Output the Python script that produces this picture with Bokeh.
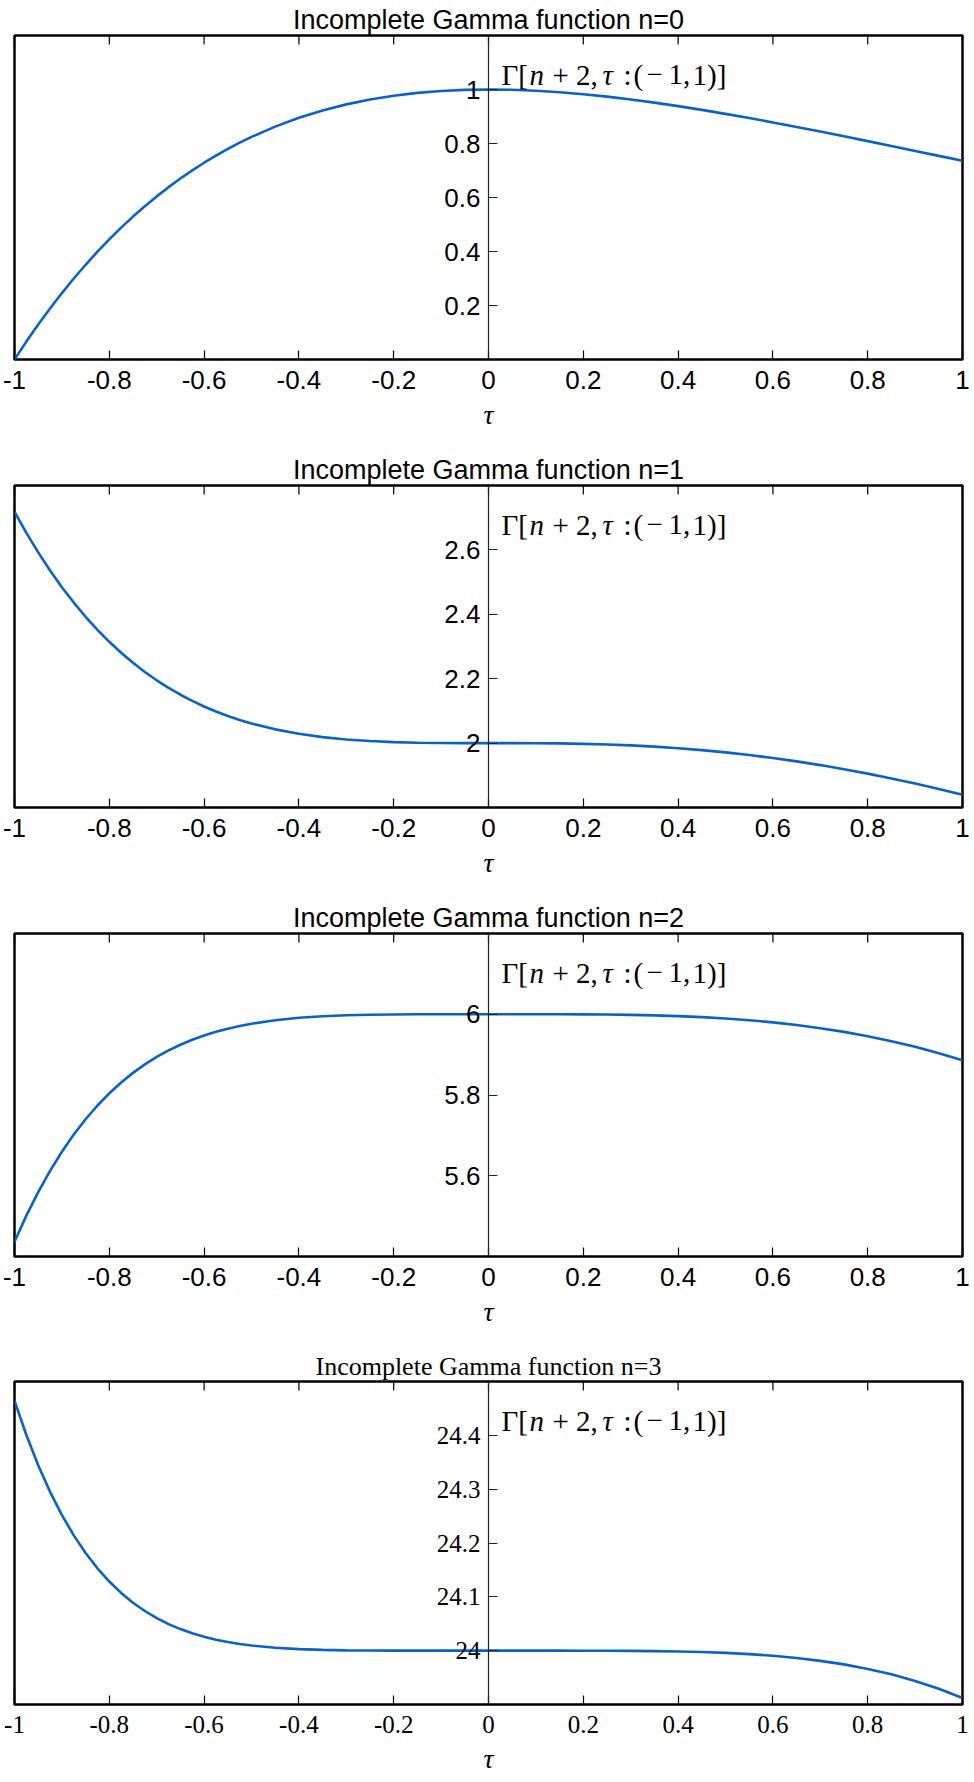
from bokeh.plotting import figure
from bokeh.models import LinearAxis, FixedTicker, Label, Range1d
from bokeh.layouts import column
from bokeh.embed import file_html
from bokeh.resources import INLINE

# ---------------- data ----------------
tau = [-1.000, -0.975, -0.950, -0.925, -0.900, -0.875, -0.850, -0.825, -0.800, -0.775,
       -0.750, -0.725, -0.700, -0.675, -0.650, -0.625, -0.600, -0.575, -0.550, -0.525,
       -0.50, -0.45, -0.40, -0.35, -0.30, -0.25, -0.20, -0.15, -0.10, -0.05,
       0.00, 0.05, 0.10, 0.15, 0.20, 0.25, 0.30, 0.35, 0.40, 0.45,
       0.50, 0.55, 0.60, 0.65, 0.70, 0.75, 0.80, 0.85, 0.90, 0.95, 1.00]

gamma_n0 = [0.0000, 0.0663, 0.1293, 0.1891, 0.2460, 0.2999, 0.3509, 0.3993, 0.4451, 0.4884,
            0.5293, 0.5678, 0.6041, 0.6383, 0.6704, 0.7006, 0.7288, 0.7553, 0.7800, 0.8030,
            0.8244, 0.8626, 0.8951, 0.9224, 0.9449, 0.9630, 0.9771, 0.9876, 0.9947, 0.9987,
            1.0000, 0.9988, 0.9953, 0.9898, 0.9825, 0.9735, 0.9631, 0.9513, 0.9384, 0.9246,
            0.9098, 0.8943, 0.8781, 0.8614, 0.8442, 0.8266, 0.8088, 0.7907, 0.7725, 0.7541, 0.7358]

gamma_n1 = [2.7183, 2.6528, 2.5922, 2.5361, 2.4842, 2.4364, 2.3923, 2.3518, 2.3146, 2.2805,
            2.2493, 2.2209, 2.1950, 2.1715, 2.1502, 2.1310, 2.1137, 2.0981, 2.0842, 2.0719,
            2.0609, 2.0427, 2.0289, 2.0186, 2.0113, 2.0063, 2.0031, 2.0013, 2.0004, 2.0000,
            2.0000, 2.0000, 1.9997, 1.9990, 1.9977, 1.9957, 1.9928, 1.9890, 1.9841, 1.9782,
            1.9712, 1.9631, 1.9538, 1.9433, 1.9317, 1.9190, 1.9052, 1.8902, 1.8743, 1.8573, 1.8394]

gamma_n2 = [5.4366, 5.5012, 5.5596, 5.6122, 5.6595, 5.7020, 5.7400, 5.7740, 5.8042, 5.8311,
            5.8548, 5.8758, 5.8943, 5.9104, 5.9245, 5.9368, 5.9474, 5.9565, 5.9643, 5.9710,
            5.9766, 5.9853, 5.9912, 5.9950, 5.9974, 5.9988, 5.9995, 5.9999, 6.0000, 6.0000,
            6.0000, 6.0000, 6.0000, 5.9999, 5.9997, 5.9992, 5.9984, 5.9972, 5.9953, 5.9928,
            5.9895, 5.9852, 5.9799, 5.9733, 5.9655, 5.9563, 5.9455, 5.9332, 5.9193, 5.9036, 5.8861]

gamma_n3 = [24.4645, 24.4007, 24.3445, 24.2951, 24.2519, 24.2142, 24.1814, 24.1530, 24.1284, 24.1073,
            24.0891, 24.0737, 24.0605, 24.0494, 24.0401, 24.0322, 24.0257, 24.0204, 24.0160, 24.0124,
            24.0095, 24.0054, 24.0029, 24.0014, 24.0006, 24.0002, 24.0001, 24.0000, 24.0000, 24.0000,
            24.0000, 24.0000, 24.0000, 24.0000, 23.9999, 23.9998, 23.9996, 23.9992, 23.9985, 23.9975,
            23.9959, 23.9936, 23.9905, 23.9865, 23.9811, 23.9745, 23.9661, 23.9560, 23.9438, 23.9292, 23.9121]

titles = ["Incomplete Gamma function n=0", "Incomplete Gamma function n=1",
          "Incomplete Gamma function n=2", "Incomplete Gamma function n=3"]

x_ticks = [-1.0, -0.8, -0.6, -0.4, -0.2, 0.0, 0.2, 0.4, 0.6, 0.8, 1.0]
x_tick_labels = ["-1", "-0.8", "-0.6", "-0.4", "-0.2", "0", "0.2", "0.4", "0.6", "0.8", "1"]

y_ticks_n0 = [0.2, 0.4, 0.6, 0.8, 1.0]
y_labels_n0 = ["0.2", "0.4", "0.6", "0.8", "1"]
y_ticks_n1 = [2.0, 2.2, 2.4, 2.6]
y_labels_n1 = ["2", "2.2", "2.4", "2.6"]
y_ticks_n2 = [5.6, 5.8, 6.0]
y_labels_n2 = ["5.6", "5.8", "6"]
y_ticks_n3 = [24.0, 24.1, 24.2, 24.3, 24.4]
y_labels_n3 = ["24", "24.1", "24.2", "24.3", "24.4"]

y_limits = [(0.0, 1.2), (1.8, 2.8), (5.4, 6.2), (23.9, 24.5)]

x_label = "τ"
# annotation  Γ[n + 2, τ : (−1, 1)]  set in pieces (italic n and τ)
annotation_parts = ["Γ[", "n", "+ 2,", "τ", ":", "(", "−", "1,", "1)]"]
annotation_italic = [False, True, False, True, False, False, False, False, False]
annotation_dx = [13, 41, 64, 114, 135, 145, 158, 180, 204]

# ---------------- styling ----------------
SANS = "Liberation Sans"
SERIF = "Liberation Serif"
LINE_COLOR = "#0b62c6"

series = [gamma_n0, gamma_n1, gamma_n2, gamma_n3]
y_ticks_all = [y_ticks_n0, y_ticks_n1, y_ticks_n2, y_ticks_n3]
y_labels_all = [y_labels_n0, y_labels_n1, y_labels_n2, y_labels_n3]
heights = [450, 448, 448, 436]
bottoms = [91, 91, 90, 78]
fonts = [SANS, SANS, SANS, SERIF]
title_sizes = ["27px", "27px", "27px", "26px"]
tick_sizes = ["26px", "26px", "26px", "25px"]


def make_panel(i):
    lo, hi = y_limits[i]
    font = fonts[i]
    p = figure(width=974, height=heights[i],
               x_range=Range1d(-1, 1), y_range=Range1d(lo, hi),
               output_backend="svg", toolbar_location=None,
               x_axis_location=None, y_axis_location=None,
               min_border_left=14, min_border_right=12,
               min_border_top=35, min_border_bottom=bottoms[i],
               title=titles[i], background_fill_color="white",
               border_fill_color="white")
    p.xgrid.visible = False
    p.ygrid.visible = False
    p.title.text_font = font
    p.title.text_font_size = title_sizes[i]
    p.title.text_font_style = "normal"
    p.title.text_color = "black"
    p.title.align = "center"
    p.title.standoff = 2

    p.outline_line_color = "black"
    p.outline_line_width = 2.5
    p.outline_line_alpha = 1.0

    # bottom x axis with labels
    xa = LinearAxis(ticker=FixedTicker(ticks=x_ticks),
                    major_label_overrides={t: s for t, s in zip(x_ticks, x_tick_labels)},
                    axis_label=x_label)
    xa.axis_line_color = None
    xa.major_tick_in = 9
    xa.major_tick_out = 0
    xa.major_tick_line_color = "black"
    xa.major_tick_line_width = 1.2
    xa.major_label_standoff = 11
    xa.major_label_text_font = font
    xa.major_label_text_font_size = tick_sizes[i]
    xa.major_label_text_color = "black"
    xa.axis_label_text_font = SERIF
    xa.axis_label_text_font_style = "italic"
    xa.axis_label_text_font_size = "28px"
    xa.axis_label_text_color = "black"
    xa.axis_label_standoff = 7
    p.add_layout(xa, "below")

    # tick marks along the top edge (pointing inward)
    p.ray(x=x_ticks, y=[hi] * len(x_ticks), length=9, length_units="screen",
          angle=-90, angle_units="deg", line_color="black", line_width=1.2)

    # y axis through tau = 0
    ya = LinearAxis(ticker=FixedTicker(ticks=y_ticks_all[i]),
                    major_label_overrides={t: s for t, s in zip(y_ticks_all[i], y_labels_all[i])},
                    fixed_location=0)
    ya.axis_line_color = "#222222"
    ya.axis_line_width = 1.2
    ya.major_tick_in = 9
    ya.major_tick_out = 0
    ya.major_tick_line_color = "#222222"
    ya.major_tick_line_width = 1.2
    ya.major_label_standoff = 8
    ya.major_label_text_font = font
    ya.major_label_text_font_size = tick_sizes[i]
    ya.major_label_text_color = "black"
    p.add_layout(ya, "left")

    p.line(tau, series[i], line_color=LINE_COLOR, line_width=2.6)

    for part, ital, dx in zip(annotation_parts, annotation_italic, annotation_dx):
        p.add_layout(Label(x=0, y=hi, x_offset=dx, y_offset=-39, text=part,
                           text_font=SERIF, text_font_size="29px",
                           text_font_style="italic" if ital else "normal",
                           text_color="black", text_baseline="alphabetic",
                           text_align="left"))
    return p


panels = [make_panel(i) for i in range(4)]
layout = column(*panels, spacing=0)
open("out.html", "w").write(file_html(layout, INLINE))
